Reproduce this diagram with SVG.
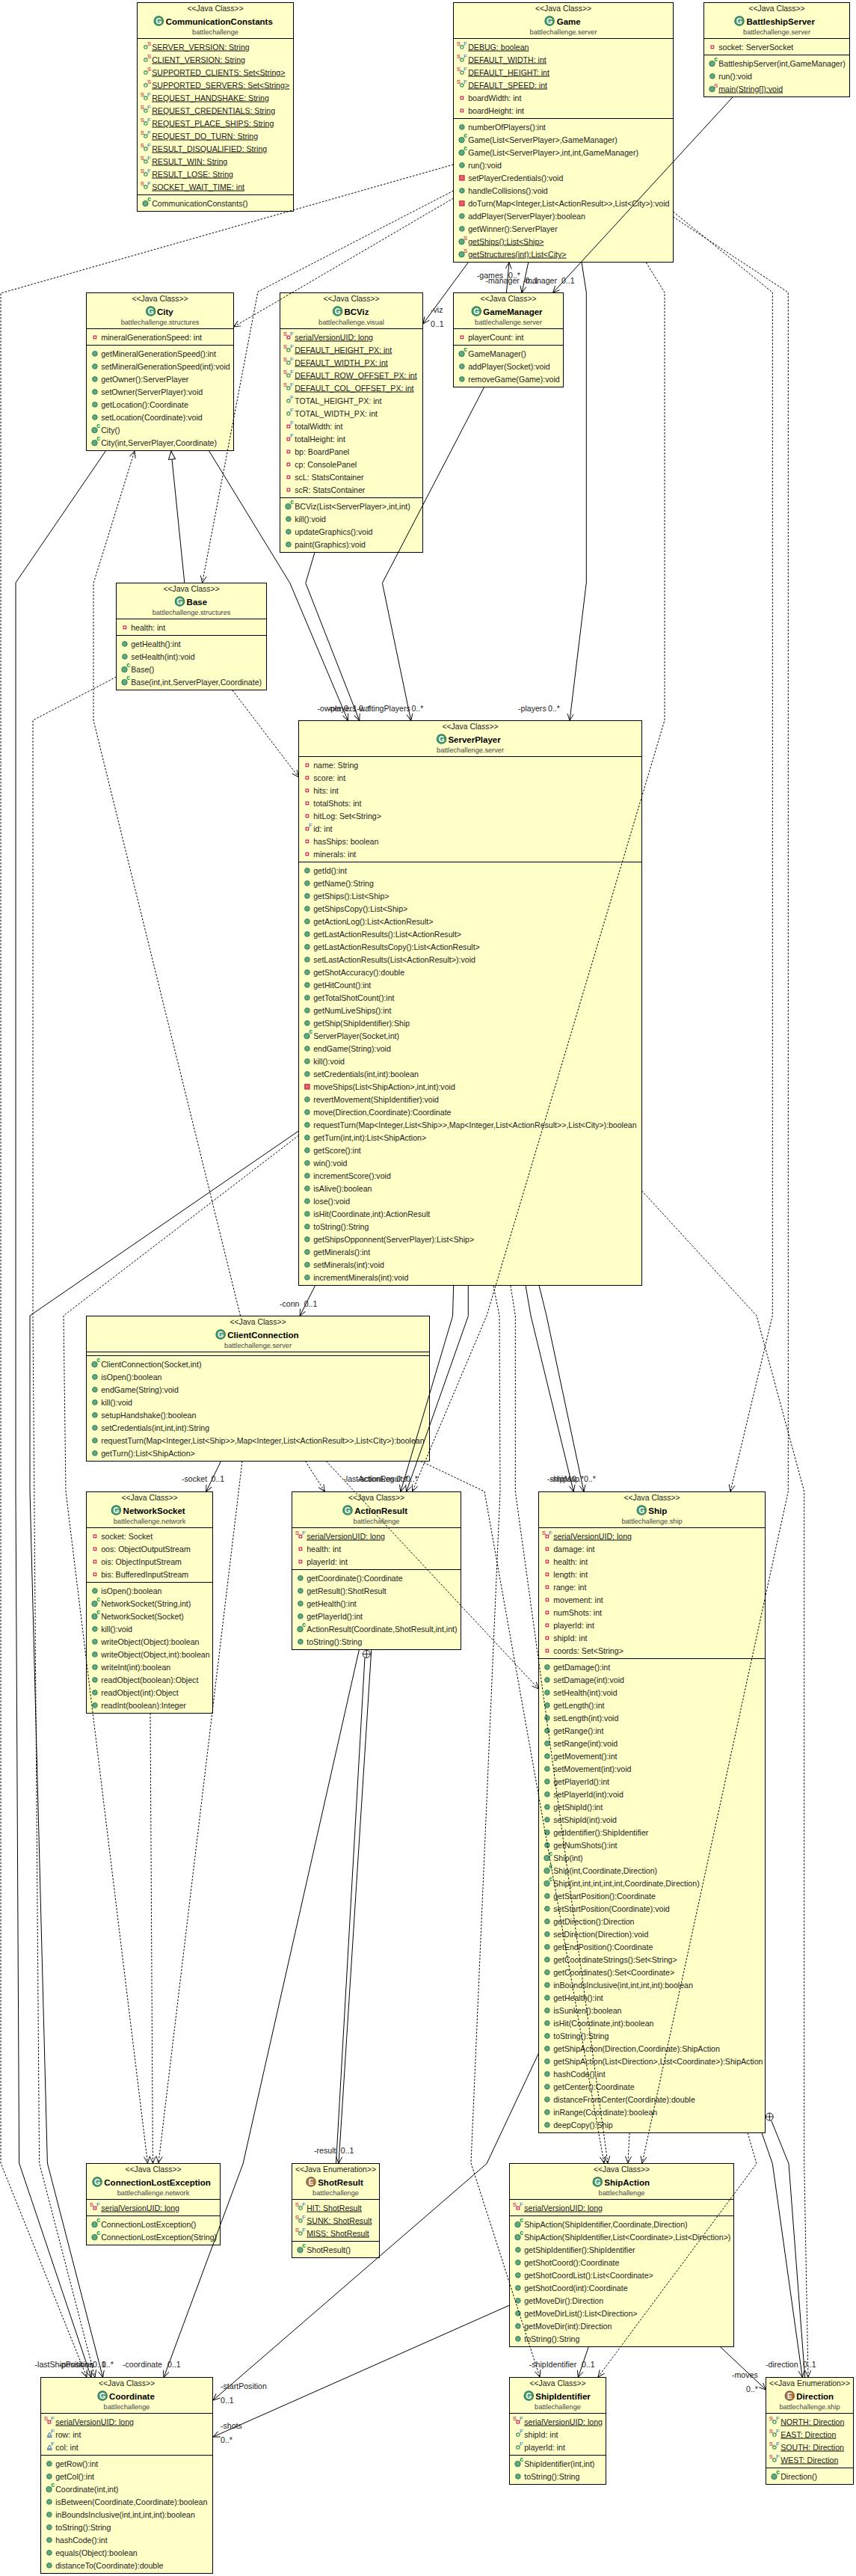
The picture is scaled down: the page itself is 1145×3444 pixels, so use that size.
<svg xmlns="http://www.w3.org/2000/svg" width="1145" height="3444" viewBox="0 0 1145 3444">
<style>
text{font-family:"Liberation Sans",Arial,sans-serif;font-size:10.6px;fill:#1c1c1c}
.u{text-decoration:underline}
.st{font-size:10.4px;text-anchor:middle}
.nm{font-size:11.5px;font-weight:bold;fill:#000}
.pk{font-size:9.2px;text-anchor:middle;fill:#444}
.b{fill:#ffffc8;stroke:#000;stroke-width:1}
.dv{stroke:#000;stroke-width:1}
.l{fill:none;stroke:#000;stroke-width:1;marker-end:url(#a)}
.n{fill:none;stroke:#000;stroke-width:1}
.d{fill:none;stroke:#000;stroke-width:1;stroke-dasharray:2.5 2;marker-end:url(#a)}
.lb{font-size:10.6px}
.fS{font-size:8px;fill:#d0003c;text-anchor:middle}
.fF{font-size:8px;fill:#2a70c0;text-anchor:middle}
.fC{font-size:8.5px;font-weight:bold;fill:#008f48;text-anchor:middle}
.gi{font-size:10px;font-weight:bold;fill:#fff;text-anchor:middle}
</style>
<defs>
<marker id="a" markerWidth="12" markerHeight="12" refX="10" refY="5" orient="auto" markerUnits="userSpaceOnUse"><path d="M1,1 L10,5 L1,9" fill="none" stroke="#000" stroke-width="0.9"/></marker>
<marker id="t" markerWidth="14" markerHeight="12" refX="12" refY="5" orient="auto" markerUnits="userSpaceOnUse"><path d="M1,0.5 L12,5 L1,9.5 Z" fill="#fff" stroke="#000"/></marker>
<g id="m"><circle cx="11.4" cy="-3.6" r="3.3" fill="#62a882" stroke="#2e7d53"/></g>
<g id="pm"><rect x="8.2" y="-6.8" width="6.4" height="6.4" fill="#e2606f" stroke="#c81e3c"/></g>
<g id="pf"><rect x="9.6" y="-5.4" width="3.6" height="3.6" fill="#fff" stroke="#d81e46" stroke-width="1.2"/></g>
<g id="c"><circle cx="11" cy="-3.4" r="3.7" fill="#62a882" stroke="#2e7d53"/><text class="fC" x="16.2" y="-6.5">c</text></g>
<g id="ms"><circle cx="11" cy="-3.4" r="3.7" fill="#62a882" stroke="#2e7d53"/><text class="fS" x="16.2" y="-6">S</text></g>
<g id="ps"><circle cx="11.4" cy="-3.4" r="2.2" fill="#ffffc8" stroke="#2e8b57" stroke-width="1.1"/><text class="fS" x="16.2" y="-5.8">S</text></g>
<g id="psf"><circle cx="11.4" cy="-3.4" r="2.2" fill="#ffffc8" stroke="#2e8b57" stroke-width="1.1"/><text class="fS" x="7" y="-5.8">S</text><text class="fF" x="16" y="-5.8">F</text></g>
<g id="prsf"><rect x="9.6" y="-5.2" width="3.6" height="3.6" fill="#fff" stroke="#d81e46" stroke-width="1.2"/><text class="fS" x="7" y="-5.8">S</text><text class="fF" x="16" y="-5.8">F</text></g>
<g id="gf"><circle cx="11.4" cy="-3.4" r="2.2" fill="#ffffc8" stroke="#2e8b57" stroke-width="1.1"/><text class="fF" x="16" y="-5.8">F</text></g>
<g id="prf"><rect x="9.6" y="-5.2" width="3.6" height="3.6" fill="#fff" stroke="#d81e46" stroke-width="1.2"/><text class="fF" x="16" y="-5.8">F</text></g>
<g id="tf"><path d="M11.8,-6.4 L14.6,-1.6 L9,-1.6 Z" fill="#ffffc8" stroke="#2a5fb0"/><path d="M8.4,-0.2 H15.2" stroke="#2a5fb0"/><text class="fF" x="16" y="-5.8">F</text></g>
<g id="g"><circle r="6.2" fill="#4c9c72" stroke="#2e7d53" stroke-width="1.2"/><text class="gi" y="3.6">G</text></g>
<g id="e"><circle r="6.2" fill="#a9764a" stroke="#8a5a30" stroke-width="1.2"/><text class="gi" y="3.6">E</text></g>
</defs>
<rect width="1145" height="3444" fill="#fff"/>

<g id="nodes">
<g id="CommunicationConstants" transform="translate(183.5,3.5)"><rect class="b" width="209" height="279"/><path class="dv" d="M0,48H209M0,257H209"/>
<text class="st" x="104.5" y="11.5">&lt;&lt;Java Class&gt;&gt;</text><use href="#g" x="28.8" y="24.5"/><text class="nm" x="38.2" y="29">CommunicationConstants</text><text class="pk" x="104.5" y="42.5">battlechallenge</text>
<g transform="translate(0,48)">
<use href="#ps" y="15"/><text class="u" x="19.7" y="15">SERVER_VERSION: String</text>
<use href="#ps" y="32"/><text class="u" x="19.7" y="32">CLIENT_VERSION: String</text>
<use href="#ps" y="49"/><text class="u" x="19.7" y="49">SUPPORTED_CLIENTS: Set&lt;String&gt;</text>
<use href="#ps" y="66"/><text class="u" x="19.7" y="66">SUPPORTED_SERVERS: Set&lt;String&gt;</text>
<use href="#psf" y="83"/><text class="u" x="19.7" y="83">REQUEST_HANDSHAKE: String</text>
<use href="#psf" y="100"/><text class="u" x="19.7" y="100">REQUEST_CREDENTIALS: String</text>
<use href="#psf" y="117"/><text class="u" x="19.7" y="117">REQUEST_PLACE_SHIPS: String</text>
<use href="#psf" y="134"/><text class="u" x="19.7" y="134">REQUEST_DO_TURN: String</text>
<use href="#psf" y="151"/><text class="u" x="19.7" y="151">RESULT_DISQUALIFIED: String</text>
<use href="#psf" y="168"/><text class="u" x="19.7" y="168">RESULT_WIN: String</text>
<use href="#psf" y="185"/><text class="u" x="19.7" y="185">RESULT_LOSE: String</text>
<use href="#psf" y="202"/><text class="u" x="19.7" y="202">SOCKET_WAIT_TIME: int</text>
</g><g transform="translate(0,257)"><use href="#c" y="15"/><text x="19.7" y="15">CommunicationConstants()</text></g></g>

<g id="Game" transform="translate(606.5,3.5)"><rect class="b" width="294" height="347"/><path class="dv" d="M0,48H294M0,155H294"/>
<text class="st" x="147" y="11.5">&lt;&lt;Java Class&gt;&gt;</text><use href="#g" x="128.6" y="24.5"/><text class="nm" x="138.2" y="29">Game</text><text class="pk" x="147" y="42.5">battlechallenge.server</text>
<g transform="translate(0,48)">
<use href="#psf" y="15"/><text class="u" x="19.7" y="15">DEBUG: boolean</text>
<use href="#psf" y="32"/><text class="u" x="19.7" y="32">DEFAULT_WIDTH: int</text>
<use href="#psf" y="49"/><text class="u" x="19.7" y="49">DEFAULT_HEIGHT: int</text>
<use href="#psf" y="66"/><text class="u" x="19.7" y="66">DEFAULT_SPEED: int</text>
<use href="#pf" y="83"/><text x="19.7" y="83">boardWidth: int</text>
<use href="#pf" y="100"/><text x="19.7" y="100">boardHeight: int</text>
</g><g transform="translate(0,155)">
<use href="#m" y="15"/><text x="19.7" y="15">numberOfPlayers():int</text>
<use href="#c" y="32"/><text x="19.7" y="32">Game(List&lt;ServerPlayer&gt;,GameManager)</text>
<use href="#c" y="49"/><text x="19.7" y="49">Game(List&lt;ServerPlayer&gt;,int,int,GameManager)</text>
<use href="#m" y="66"/><text x="19.7" y="66">run():void</text>
<use href="#pm" y="83"/><text x="19.7" y="83">setPlayerCredentials():void</text>
<use href="#m" y="100"/><text x="19.7" y="100">handleCollisions():void</text>
<use href="#pm" y="117"/><text x="19.7" y="117">doTurn(Map&lt;Integer,List&lt;ActionResult&gt;&gt;,List&lt;City&gt;):void</text>
<use href="#m" y="134"/><text x="19.7" y="134">addPlayer(ServerPlayer):boolean</text>
<use href="#m" y="151"/><text x="19.7" y="151">getWinner():ServerPlayer</text>
<use href="#ms" y="168"/><text class="u" x="19.7" y="168">getShips():List&lt;Ship&gt;</text>
<use href="#ms" y="185"/><text class="u" x="19.7" y="185">getStructures(int):List&lt;City&gt;</text>
</g></g>

<g id="BattleshipServer" transform="translate(941.5,3.5)"><rect class="b" width="195" height="126"/><path class="dv" d="M0,48H195M0,70H195"/>
<text class="st" x="97.5" y="11.5">&lt;&lt;Java Class&gt;&gt;</text><use href="#g" x="47.5" y="24.5"/><text class="nm" x="57" y="29">BattleshipServer</text><text class="pk" x="97.5" y="42.5">battlechallenge.server</text>
<g transform="translate(0,48)"><use href="#pf" y="15"/><text x="19.7" y="15">socket: ServerSocket</text></g>
<g transform="translate(0,70)"><use href="#c" y="15"/><text x="19.7" y="15">BattleshipServer(int,GameManager)</text>
<use href="#m" y="32"/><text x="19.7" y="32">run():void</text>
<use href="#ms" y="49"/><text class="u" x="19.7" y="49">main(String[]):void</text></g></g>

<g id="City" transform="translate(115.5,391.5)"><rect class="b" width="197" height="211"/><path class="dv" d="M0,48H197M0,70H197"/>
<text class="st" x="98.5" y="11.5">&lt;&lt;Java Class&gt;&gt;</text><use href="#g" x="86.2" y="24.5"/><text class="nm" x="94.5" y="29">City</text><text class="pk" x="98.5" y="42.5">battlechallenge.structures</text>
<g transform="translate(0,48)"><use href="#pf" y="15"/><text x="19.7" y="15">mineralGenerationSpeed: int</text></g>
<g transform="translate(0,70)">
<use href="#m" y="15"/><text x="19.7" y="15">getMineralGenerationSpeed():int</text>
<use href="#m" y="32"/><text x="19.7" y="32">setMineralGenerationSpeed(int):void</text>
<use href="#m" y="49"/><text x="19.7" y="49">getOwner():ServerPlayer</text>
<use href="#m" y="66"/><text x="19.7" y="66">setOwner(ServerPlayer):void</text>
<use href="#m" y="83"/><text x="19.7" y="83">getLocation():Coordinate</text>
<use href="#m" y="100"/><text x="19.7" y="100">setLocation(Coordinate):void</text>
<use href="#c" y="117"/><text x="19.7" y="117">City()</text>
<use href="#c" y="134"/><text x="19.7" y="134">City(int,ServerPlayer,Coordinate)</text>
</g></g>

<g id="BCViz" transform="translate(374.5,391.5)"><rect class="b" width="191" height="347"/><path class="dv" d="M0,48H191M0,274H191"/>
<text class="st" x="95.5" y="11.5">&lt;&lt;Java Class&gt;&gt;</text><use href="#g" x="77.1" y="24.5"/><text class="nm" x="85.9" y="29">BCViz</text><text class="pk" x="95.5" y="42.5">battlechallenge.visual</text>
<g transform="translate(0,48)">
<use href="#prsf" y="15"/><text class="u" x="19.7" y="15">serialVersionUID: long</text>
<use href="#psf" y="32"/><text class="u" x="19.7" y="32">DEFAULT_HEIGHT_PX: int</text>
<use href="#psf" y="49"/><text class="u" x="19.7" y="49">DEFAULT_WIDTH_PX: int</text>
<use href="#psf" y="66"/><text class="u" x="19.7" y="66">DEFAULT_ROW_OFFSET_PX: int</text>
<use href="#psf" y="83"/><text class="u" x="19.7" y="83">DEFAULT_COL_OFFSET_PX: int</text>
<use href="#gf" y="100"/><text x="19.7" y="100">TOTAL_HEIGHT_PX: int</text>
<use href="#gf" y="117"/><text x="19.7" y="117">TOTAL_WIDTH_PX: int</text>
<use href="#prf" y="134"/><text x="19.7" y="134">totalWidth: int</text>
<use href="#prf" y="151"/><text x="19.7" y="151">totalHeight: int</text>
<use href="#pf" y="168"/><text x="19.7" y="168">bp: BoardPanel</text>
<use href="#pf" y="185"/><text x="19.7" y="185">cp: ConsolePanel</text>
<use href="#pf" y="202"/><text x="19.7" y="202">scL: StatsContainer</text>
<use href="#pf" y="219"/><text x="19.7" y="219">scR: StatsContainer</text>
</g><g transform="translate(0,274)">
<use href="#c" y="15"/><text x="19.7" y="15">BCViz(List&lt;ServerPlayer&gt;,int,int)</text>
<use href="#m" y="32"/><text x="19.7" y="32">kill():void</text>
<use href="#m" y="49"/><text x="19.7" y="49">updateGraphics():void</text>
<use href="#m" y="66"/><text x="19.7" y="66">paint(Graphics):void</text>
</g></g>

<g id="GameManager" transform="translate(606.5,391.5)"><rect class="b" width="147" height="126"/><path class="dv" d="M0,48H147M0,70H147"/>
<text class="st" x="73.5" y="11.5">&lt;&lt;Java Class&gt;&gt;</text><use href="#g" x="30.8" y="24.5"/><text class="nm" x="39.8" y="29">GameManager</text><text class="pk" x="73.5" y="42.5">battlechallenge.server</text>
<g transform="translate(0,48)"><use href="#pf" y="15"/><text x="19.7" y="15">playerCount: int</text></g>
<g transform="translate(0,70)">
<use href="#c" y="15"/><text x="19.7" y="15">GameManager()</text>
<use href="#m" y="32"/><text x="19.7" y="32">addPlayer(Socket):void</text>
<use href="#m" y="49"/><text x="19.7" y="49">removeGame(Game):void</text>
</g></g>

<g id="Base" transform="translate(155.5,779.5)"><rect class="b" width="201" height="143"/><path class="dv" d="M0,48H201M0,70H201"/>
<text class="st" x="100.5" y="11.5">&lt;&lt;Java Class&gt;&gt;</text><use href="#g" x="85" y="24.5"/><text class="nm" x="94.1" y="29">Base</text><text class="pk" x="100.5" y="42.5">battlechallenge.structures</text>
<g transform="translate(0,48)"><use href="#pf" y="15"/><text x="19.7" y="15">health: int</text></g>
<g transform="translate(0,70)">
<use href="#m" y="15"/><text x="19.7" y="15">getHealth():int</text>
<use href="#m" y="32"/><text x="19.7" y="32">setHealth(int):void</text>
<use href="#c" y="49"/><text x="19.7" y="49">Base()</text>
<use href="#c" y="66"/><text x="19.7" y="66">Base(int,int,ServerPlayer,Coordinate)</text>
</g></g>

<g id="ServerPlayer" transform="translate(399.5,963.5)"><rect class="b" width="459" height="755"/><path class="dv" d="M0,48H459M0,189H459"/>
<text class="st" x="229.5" y="11.5">&lt;&lt;Java Class&gt;&gt;</text><use href="#g" x="191.1" y="24.5"/><text class="nm" x="199.9" y="29">ServerPlayer</text><text class="pk" x="229.5" y="42.5">battlechallenge.server</text>
<g transform="translate(0,48)">
<use href="#pf" y="15"/><text x="19.7" y="15">name: String</text>
<use href="#pf" y="32"/><text x="19.7" y="32">score: int</text>
<use href="#pf" y="49"/><text x="19.7" y="49">hits: int</text>
<use href="#pf" y="66"/><text x="19.7" y="66">totalShots: int</text>
<use href="#pf" y="83"/><text x="19.7" y="83">hitLog: Set&lt;String&gt;</text>
<use href="#prf" y="100"/><text x="19.7" y="100">id: int</text>
<use href="#pf" y="117"/><text x="19.7" y="117">hasShips: boolean</text>
<use href="#pf" y="134"/><text x="19.7" y="134">minerals: int</text>
</g><g transform="translate(0,189)">
<use href="#m" y="15"/><text x="19.7" y="15">getId():int</text>
<use href="#m" y="32"/><text x="19.7" y="32">getName():String</text>
<use href="#m" y="49"/><text x="19.7" y="49">getShips():List&lt;Ship&gt;</text>
<use href="#m" y="66"/><text x="19.7" y="66">getShipsCopy():List&lt;Ship&gt;</text>
<use href="#m" y="83"/><text x="19.7" y="83">getActionLog():List&lt;ActionResult&gt;</text>
<use href="#m" y="100"/><text x="19.7" y="100">getLastActionResults():List&lt;ActionResult&gt;</text>
<use href="#m" y="117"/><text x="19.7" y="117">getLastActionResultsCopy():List&lt;ActionResult&gt;</text>
<use href="#m" y="134"/><text x="19.7" y="134">setLastActionResults(List&lt;ActionResult&gt;):void</text>
<use href="#m" y="151"/><text x="19.7" y="151">getShotAccuracy():double</text>
<use href="#m" y="168"/><text x="19.7" y="168">getHitCount():int</text>
<use href="#m" y="185"/><text x="19.7" y="185">getTotalShotCount():int</text>
<use href="#m" y="202"/><text x="19.7" y="202">getNumLiveShips():int</text>
<use href="#m" y="219"/><text x="19.7" y="219">getShip(ShipIdentifier):Ship</text>
<use href="#c" y="236"/><text x="19.7" y="236">ServerPlayer(Socket,int)</text>
<use href="#m" y="253"/><text x="19.7" y="253">endGame(String):void</text>
<use href="#m" y="270"/><text x="19.7" y="270">kill():void</text>
<use href="#m" y="287"/><text x="19.7" y="287">setCredentials(int,int):boolean</text>
<use href="#pm" y="304"/><text x="19.7" y="304">moveShips(List&lt;ShipAction&gt;,int,int):void</text>
<use href="#m" y="321"/><text x="19.7" y="321">revertMovement(ShipIdentifier):void</text>
<use href="#m" y="338"/><text x="19.7" y="338">move(Direction,Coordinate):Coordinate</text>
<use href="#m" y="355"/><text x="19.7" y="355">requestTurn(Map&lt;Integer,List&lt;Ship&gt;&gt;,Map&lt;Integer,List&lt;ActionResult&gt;&gt;,List&lt;City&gt;):boolean</text>
<use href="#m" y="372"/><text x="19.7" y="372">getTurn(int,int):List&lt;ShipAction&gt;</text>
<use href="#m" y="389"/><text x="19.7" y="389">getScore():int</text>
<use href="#m" y="406"/><text x="19.7" y="406">win():void</text>
<use href="#m" y="423"/><text x="19.7" y="423">incrementScore():void</text>
<use href="#m" y="440"/><text x="19.7" y="440">isAlive():boolean</text>
<use href="#m" y="457"/><text x="19.7" y="457">lose():void</text>
<use href="#m" y="474"/><text x="19.7" y="474">isHit(Coordinate,int):ActionResult</text>
<use href="#m" y="491"/><text x="19.7" y="491">toString():String</text>
<use href="#m" y="508"/><text x="19.7" y="508">getShipsOpponnent(ServerPlayer):List&lt;Ship&gt;</text>
<use href="#m" y="525"/><text x="19.7" y="525">getMinerals():int</text>
<use href="#m" y="542"/><text x="19.7" y="542">setMinerals(int):void</text>
<use href="#m" y="559"/><text x="19.7" y="559">incrementMinerals(int):void</text>
</g></g>

<g id="ClientConnection" transform="translate(115.5,1759.5)"><rect class="b" width="459" height="194"/><path class="dv" d="M0,48H459M0,53H459"/>
<text class="st" x="229.5" y="11.5">&lt;&lt;Java Class&gt;&gt;</text><use href="#g" x="179.6" y="24.5"/><text class="nm" x="188.8" y="29">ClientConnection</text><text class="pk" x="229.5" y="42.5">battlechallenge.server</text>
<g transform="translate(0,53)">
<use href="#c" y="15"/><text x="19.7" y="15">ClientConnection(Socket,int)</text>
<use href="#m" y="32"/><text x="19.7" y="32">isOpen():boolean</text>
<use href="#m" y="49"/><text x="19.7" y="49">endGame(String):void</text>
<use href="#m" y="66"/><text x="19.7" y="66">kill():void</text>
<use href="#m" y="83"/><text x="19.7" y="83">setupHandshake():boolean</text>
<use href="#m" y="100"/><text x="19.7" y="100">setCredentials(int,int,int):String</text>
<use href="#m" y="117"/><text x="19.7" y="117">requestTurn(Map&lt;Integer,List&lt;Ship&gt;&gt;,Map&lt;Integer,List&lt;ActionResult&gt;&gt;,List&lt;City&gt;):boolean</text>
<use href="#m" y="134"/><text x="19.7" y="134">getTurn():List&lt;ShipAction&gt;</text>
</g></g>

<g id="NetworkSocket" transform="translate(115.5,1994.5)"><rect class="b" width="169" height="296"/><path class="dv" d="M0,48H169M0,121H169"/>
<text class="st" x="84.5" y="11.5">&lt;&lt;Java Class&gt;&gt;</text><use href="#g" x="39.9" y="24.5"/><text class="nm" x="49.1" y="29">NetworkSocket</text><text class="pk" x="84.5" y="42.5">battlechallenge.network</text>
<g transform="translate(0,48)">
<use href="#pf" y="15"/><text x="19.7" y="15">socket: Socket</text>
<use href="#pf" y="32"/><text x="19.7" y="32">oos: ObjectOutputStream</text>
<use href="#pf" y="49"/><text x="19.7" y="49">ois: ObjectInputStream</text>
<use href="#pf" y="66"/><text x="19.7" y="66">bis: BufferedInputStream</text>
</g><g transform="translate(0,121)">
<use href="#m" y="15"/><text x="19.7" y="15">isOpen():boolean</text>
<use href="#c" y="32"/><text x="19.7" y="32">NetworkSocket(String,int)</text>
<use href="#c" y="49"/><text x="19.7" y="49">NetworkSocket(Socket)</text>
<use href="#m" y="66"/><text x="19.7" y="66">kill():void</text>
<use href="#m" y="83"/><text x="19.7" y="83">writeObject(Object):boolean</text>
<use href="#m" y="100"/><text x="19.7" y="100">writeObject(Object,int):boolean</text>
<use href="#m" y="117"/><text x="19.7" y="117">writeInt(int):boolean</text>
<use href="#m" y="134"/><text x="19.7" y="134">readObject(boolean):Object</text>
<use href="#m" y="151"/><text x="19.7" y="151">readObject(int):Object</text>
<use href="#m" y="168"/><text x="19.7" y="168">readInt(boolean):Integer</text>
</g></g>

<g id="ActionResult" transform="translate(390.5,1994.5)"><rect class="b" width="226" height="211"/><path class="dv" d="M0,48H226M0,104H226"/>
<text class="st" x="113" y="11.5">&lt;&lt;Java Class&gt;&gt;</text><use href="#g" x="74.5" y="24.5"/><text class="nm" x="83.7" y="29">ActionResult</text><text class="pk" x="113" y="42.5">battlechallenge</text>
<g transform="translate(0,48)">
<use href="#prsf" y="15"/><text class="u" x="19.7" y="15">serialVersionUID: long</text>
<use href="#pf" y="32"/><text x="19.7" y="32">health: int</text>
<use href="#pf" y="49"/><text x="19.7" y="49">playerId: int</text>
</g><g transform="translate(0,104)">
<use href="#m" y="15"/><text x="19.7" y="15">getCoordinate():Coordinate</text>
<use href="#m" y="32"/><text x="19.7" y="32">getResult():ShotResult</text>
<use href="#m" y="49"/><text x="19.7" y="49">getHealth():int</text>
<use href="#m" y="66"/><text x="19.7" y="66">getPlayerId():int</text>
<use href="#c" y="83"/><text x="19.7" y="83">ActionResult(Coordinate,ShotResult,int,int)</text>
<use href="#m" y="100"/><text x="19.7" y="100">toString():String</text>
</g></g>

<g id="Ship" transform="translate(720.5,1994.5)"><rect class="b" width="303" height="857"/><path class="dv" d="M0,48H303M0,223H303"/>
<text class="st" x="151.5" y="11.5">&lt;&lt;Java Class&gt;&gt;</text><use href="#g" x="137.8" y="24.5"/><text class="nm" x="146.8" y="29">Ship</text><text class="pk" x="151.5" y="42.5">battlechallenge.ship</text>
<g transform="translate(0,48)">
<use href="#prsf" y="15"/><text class="u" x="19.7" y="15">serialVersionUID: long</text>
<use href="#pf" y="32"/><text x="19.7" y="32">damage: int</text>
<use href="#pf" y="49"/><text x="19.7" y="49">health: int</text>
<use href="#pf" y="66"/><text x="19.7" y="66">length: int</text>
<use href="#pf" y="83"/><text x="19.7" y="83">range: int</text>
<use href="#pf" y="100"/><text x="19.7" y="100">movement: int</text>
<use href="#pf" y="117"/><text x="19.7" y="117">numShots: int</text>
<use href="#pf" y="134"/><text x="19.7" y="134">playerId: int</text>
<use href="#pf" y="151"/><text x="19.7" y="151">shipId: int</text>
<use href="#pf" y="168"/><text x="19.7" y="168">coords: Set&lt;String&gt;</text>
</g><g transform="translate(0,223)">
<use href="#m" y="15"/><text x="19.7" y="15">getDamage():int</text>
<use href="#m" y="32"/><text x="19.7" y="32">setDamage(int):void</text>
<use href="#m" y="49"/><text x="19.7" y="49">setHealth(int):void</text>
<use href="#m" y="66"/><text x="19.7" y="66">getLength():int</text>
<use href="#m" y="83"/><text x="19.7" y="83">setLength(int):void</text>
<use href="#m" y="100"/><text x="19.7" y="100">getRange():int</text>
<use href="#m" y="117"/><text x="19.7" y="117">setRange(int):void</text>
<use href="#m" y="134"/><text x="19.7" y="134">getMovement():int</text>
<use href="#m" y="151"/><text x="19.7" y="151">setMovement(int):void</text>
<use href="#m" y="168"/><text x="19.7" y="168">getPlayerId():int</text>
<use href="#m" y="185"/><text x="19.7" y="185">setPlayerId(int):void</text>
<use href="#m" y="202"/><text x="19.7" y="202">getShipId():int</text>
<use href="#m" y="219"/><text x="19.7" y="219">setShipId(int):void</text>
<use href="#m" y="236"/><text x="19.7" y="236">getIdentifier():ShipIdentifier</text>
<use href="#m" y="253"/><text x="19.7" y="253">getNumShots():int</text>
<use href="#c" y="270"/><text x="19.7" y="270">Ship(int)</text>
<use href="#c" y="287"/><text x="19.7" y="287">Ship(int,Coordinate,Direction)</text>
<use href="#c" y="304"/><text x="19.7" y="304">Ship(int,int,int,int,int,Coordinate,Direction)</text>
<use href="#m" y="321"/><text x="19.7" y="321">getStartPosition():Coordinate</text>
<use href="#m" y="338"/><text x="19.7" y="338">setStartPosition(Coordinate):void</text>
<use href="#m" y="355"/><text x="19.7" y="355">getDirection():Direction</text>
<use href="#m" y="372"/><text x="19.7" y="372">setDirection(Direction):void</text>
<use href="#m" y="389"/><text x="19.7" y="389">getEndPosition():Coordinate</text>
<use href="#m" y="406"/><text x="19.7" y="406">getCoordinateStrings():Set&lt;String&gt;</text>
<use href="#m" y="423"/><text x="19.7" y="423">getCoordinates():Set&lt;Coordinate&gt;</text>
<use href="#m" y="440"/><text x="19.7" y="440">inBoundsInclusive(int,int,int,int):boolean</text>
<use href="#m" y="457"/><text x="19.7" y="457">getHealth():int</text>
<use href="#m" y="474"/><text x="19.7" y="474">isSunken():boolean</text>
<use href="#m" y="491"/><text x="19.7" y="491">isHit(Coordinate,int):boolean</text>
<use href="#m" y="508"/><text x="19.7" y="508">toString():String</text>
<use href="#m" y="525"/><text x="19.7" y="525">getShipAction(Direction,Coordinate):ShipAction</text>
<use href="#m" y="542"/><text x="19.7" y="542">getShipAction(List&lt;Direction&gt;,List&lt;Coordinate&gt;):ShipAction</text>
<use href="#m" y="559"/><text x="19.7" y="559">hashCode():int</text>
<use href="#m" y="576"/><text x="19.7" y="576">getCenter():Coordinate</text>
<use href="#m" y="593"/><text x="19.7" y="593">distanceFromCenter(Coordinate):double</text>
<use href="#m" y="610"/><text x="19.7" y="610">inRange(Coordinate):boolean</text>
<use href="#m" y="627"/><text x="19.7" y="627">deepCopy():Ship</text>
</g></g>

<g id="ConnectionLostException" transform="translate(115.5,2892.5)"><rect class="b" width="179" height="109"/><path class="dv" d="M0,48H179M0,70H179"/>
<text class="st" x="89.5" y="11.5">&lt;&lt;Java Class&gt;&gt;</text><use href="#g" x="14.6" y="24.5"/><text class="nm" x="23.8" y="29">ConnectionLostException</text><text class="pk" x="89.5" y="42.5">battlechallenge.network</text>
<g transform="translate(0,48)"><use href="#prsf" y="15"/><text class="u" x="19.7" y="15">serialVersionUID: long</text></g>
<g transform="translate(0,70)">
<use href="#c" y="15"/><text x="19.7" y="15">ConnectionLostException()</text>
<use href="#c" y="32"/><text x="19.7" y="32">ConnectionLostException(String)</text>
</g></g>

<g id="ShotResult" transform="translate(390.5,2892.5)"><rect class="b" width="117" height="126"/><path class="dv" d="M0,48H117M0,104H117"/>
<text class="st" x="58.5" y="11.5">&lt;&lt;Java Enumeration&gt;&gt;</text><use href="#e" x="25.5" y="24.5"/><text class="nm" x="34.7" y="29">ShotResult</text><text class="pk" x="58.5" y="42.5">battlechallenge</text>
<g transform="translate(0,48)">
<use href="#psf" y="15"/><text class="u" x="19.7" y="15">HIT: ShotResult</text>
<use href="#psf" y="32"/><text class="u" x="19.7" y="32">SUNK: ShotResult</text>
<use href="#psf" y="49"/><text class="u" x="19.7" y="49">MISS: ShotResult</text>
</g><g transform="translate(0,104)"><use href="#c" y="15"/><text x="19.7" y="15">ShotResult()</text></g></g>

<g id="ShipAction" transform="translate(681.5,2892.5)"><rect class="b" width="300" height="245"/><path class="dv" d="M0,48H300M0,70H300"/>
<text class="st" x="150" y="11.5">&lt;&lt;Java Class&gt;&gt;</text><use href="#g" x="117.8" y="24.5"/><text class="nm" x="126.8" y="29">ShipAction</text><text class="pk" x="150" y="42.5">battlechallenge</text>
<g transform="translate(0,48)"><use href="#prsf" y="15"/><text class="u" x="19.7" y="15">serialVersionUID: long</text></g>
<g transform="translate(0,70)">
<use href="#c" y="15"/><text x="19.7" y="15">ShipAction(ShipIdentifier,Coordinate,Direction)</text>
<use href="#c" y="32"/><text x="19.7" y="32">ShipAction(ShipIdentifier,List&lt;Coordinate&gt;,List&lt;Direction&gt;)</text>
<use href="#m" y="49"/><text x="19.7" y="49">getShipIdentifier():ShipIdentifier</text>
<use href="#m" y="66"/><text x="19.7" y="66">getShotCoord():Coordinate</text>
<use href="#m" y="83"/><text x="19.7" y="83">getShotCoordList():List&lt;Coordinate&gt;</text>
<use href="#m" y="100"/><text x="19.7" y="100">getShotCoord(int):Coordinate</text>
<use href="#m" y="117"/><text x="19.7" y="117">getMoveDir():Direction</text>
<use href="#m" y="134"/><text x="19.7" y="134">getMoveDirList():List&lt;Direction&gt;</text>
<use href="#m" y="151"/><text x="19.7" y="151">getMoveDir(int):Direction</text>
<use href="#m" y="168"/><text x="19.7" y="168">toString():String</text>
</g></g>

<g id="ShipIdentifier" transform="translate(681.5,3178.5)"><rect class="b" width="129" height="143"/><path class="dv" d="M0,48H129M0,104H129"/>
<text class="st" x="64.5" y="11.5">&lt;&lt;Java Class&gt;&gt;</text><use href="#g" x="25.8" y="24.5"/><text class="nm" x="34.8" y="29">ShipIdentifier</text><text class="pk" x="64.5" y="42.5">battlechallenge</text>
<g transform="translate(0,48)">
<use href="#prsf" y="15"/><text class="u" x="19.7" y="15">serialVersionUID: long</text>
<use href="#gf" y="32"/><text x="19.7" y="32">shipId: int</text>
<use href="#gf" y="49"/><text x="19.7" y="49">playerId: int</text>
</g><g transform="translate(0,104)">
<use href="#c" y="15"/><text x="19.7" y="15">ShipIdentifier(int,int)</text>
<use href="#m" y="32"/><text x="19.7" y="32">toString():String</text>
</g></g>

<g id="Direction" transform="translate(1024.5,3178.5)"><rect class="b" width="117" height="143"/><path class="dv" d="M0,48H117M0,121H117"/>
<text class="st" x="58.5" y="11.5">&lt;&lt;Java Enumeration&gt;&gt;</text><use href="#e" x="31.8" y="24.5"/><text class="nm" x="40.8" y="29">Direction</text><text class="pk" x="58.5" y="42.5">battlechallenge.ship</text>
<g transform="translate(0,48)">
<use href="#psf" y="15"/><text class="u" x="19.7" y="15">NORTH: Direction</text>
<use href="#psf" y="32"/><text class="u" x="19.7" y="32">EAST: Direction</text>
<use href="#psf" y="49"/><text class="u" x="19.7" y="49">SOUTH: Direction</text>
<use href="#psf" y="66"/><text class="u" x="19.7" y="66">WEST: Direction</text>
</g><g transform="translate(0,121)"><use href="#c" y="15"/><text x="19.7" y="15">Direction()</text></g></g>

<g id="Coordinate" transform="translate(54.5,3178.5)"><rect class="b" width="230" height="262"/><path class="dv" d="M0,48H230M0,104H230"/>
<text class="st" x="115" y="11.5">&lt;&lt;Java Class&gt;&gt;</text><use href="#g" x="82.6" y="24.5"/><text class="nm" x="91.6" y="29">Coordinate</text><text class="pk" x="115" y="42.5">battlechallenge</text>
<g transform="translate(0,48)">
<use href="#prsf" y="15"/><text class="u" x="19.7" y="15">serialVersionUID: long</text>
<use href="#tf" y="32"/><text x="19.7" y="32">row: int</text>
<use href="#tf" y="49"/><text x="19.7" y="49">col: int</text>
</g><g transform="translate(0,104)">
<use href="#m" y="15"/><text x="19.7" y="15">getRow():int</text>
<use href="#m" y="32"/><text x="19.7" y="32">getCol():int</text>
<use href="#c" y="49"/><text x="19.7" y="49">Coordinate(int,int)</text>
<use href="#m" y="66"/><text x="19.7" y="66">isBetween(Coordinate,Coordinate):boolean</text>
<use href="#m" y="83"/><text x="19.7" y="83">inBoundsInclusive(int,int,int,int):boolean</text>
<use href="#m" y="100"/><text x="19.7" y="100">toString():String</text>
<use href="#m" y="117"/><text x="19.7" y="117">hashCode():int</text>
<use href="#m" y="134"/><text x="19.7" y="134">equals(Object):boolean</text>
<use href="#m" y="151"/><text x="19.7" y="151">distanceTo(Coordinate):double</text>
</g></g>
</g>

<g id="connectors">
<path class="d" d="M606.5,220 L1,392 V2892 L116,3178"/>
<path class="d" d="M606.5,255 L345,390 L270.6,779"/>
<path class="d" d="M606.5,265 L312.5,437"/>
<path class="d" d="M864.3,351 L889,391 V963 L651,1759 L551.5,1994"/>
<path class="d" d="M900.5,283 L1033.3,391 V1759 L977,1994"/>
<path class="d" d="M900.5,290 L1054.3,391 V1994 L859,2892"/>
<path class="d" d="M321.5,1759 L125,963 V780 L180,603"/>
<path class="d" d="M311,923 L399.5,1039"/>
<path class="d" d="M155.5,905 L44,963 V1759 L52.6,2892 L127,3178"/>
<path class="d" d="M858.5,1592 L1012,1759 L1075.7,1994 V2892 L1081,3178"/>
<path class="d" d="M660,1719 L668,1759 L669,1994 L630,2892 L722,3178"/>
<path class="d" d="M683,1719 L689.3,1759 V1994 L813,2892"/>
<path class="d" d="M562.6,1953.5 L648,1994 L808,2892"/>
<path class="d" d="M842,2851.5 L840,2892"/>
<path class="d" d="M1000,2851.5 L1012,2892.8 L800,3178"/>
<path class="d" d="M408.4,1953.5 L434.4,1994"/>
<path class="d" d="M436.3,1953.5 L720.5,2258"/>
<path class="d" d="M324,1953.5 L212,2892"/>
<path class="d" d="M201,2290.5 L204.4,2892"/>
<path class="d" d="M399.5,1518 L85,1759 L88,1994 L197.5,2892"/>
<path class="l" d="M626.5,350.5 L565.8,433"/>
<path class="l" d="M677.4,391.5 L681,350.5"/>
<path class="l" d="M706.8,350.5 L698,391.5"/>
<path class="l" d="M980.4,129.5 L739.5,391.5"/>
<path class="l" d="M778,350.5 L784.3,391 V779 L762,963.5"/>
<path class="l" d="M141.6,602.5 L21,779 V1994 L25.6,2892 L122,3178.5"/>
<path class="l" d="M279.4,602.5 L387.8,779.5 L465.5,963.5"/>
<path class="l" d="M421,738.5 L408.8,779.5 L480.8,963.5"/>
<path class="l" d="M647.7,517.5 L511.4,779.5 L549.7,963.5"/>
<path class="l" d="M399.5,1512 L40,1759 V1994 L63.4,2892 L137.6,3178.5"/>
<path class="l" d="M421.7,1718.5 L401,1759.5"/>
<path class="l" d="M606.7,1718.5 L605.5,1759.5 L535.8,1994.5"/>
<path class="l" d="M626.3,1718.5 V1759.5 L543.5,1994.5"/>
<path class="l" d="M703,1718.5 L710,1759 L767.3,1994.5"/>
<path class="l" d="M721,1718.5 L731,1759 L781,1994.5"/>
<path class="l" d="M295.5,1953.5 L275.6,1994.5"/>
<path class="l" d="M480.4,2205.5 L325,2893 L219,3178.5"/>
<path class="l" d="M496.8,2205.5 L453,2892.5"/>
<path class="n" d="M488,2216 L449.5,2892.5"/>
<path class="l" d="M720.5,2745 L651,2892.7 L285,3209"/>
<path class="l" d="M681.5,3082 L285,3258"/>
<path class="l" d="M1019,2851.5 L1033.3,2892.8 L1073.3,3178.5"/>
<path class="n" d="M1031.7,2835 L1055,2892.8 L1076.7,3178.5"/>
<path class="l" d="M787.3,3137.5 L773.3,3178.5"/>
<path class="l" d="M963.3,3137.5 L1024.5,3195"/>
<path fill="none" stroke="#000" marker-end="url(#t)" d="M246.8,779 L228.9,603"/>
<g fill="#fff" stroke="#222"><circle cx="490.3" cy="2211.4" r="5"/><path d="M485.3,2211.4H495.3M490.3,2206.4V2216.4"/><circle cx="1029.3" cy="2830" r="5"/><path d="M1024.3,2830H1034.3M1029.3,2825V2835"/></g>
</g>

<g id="labels">
<text class="lb" x="637.8" y="371.5">-games</text><text class="lb" x="680" y="371.5">0..*</text>
<text class="lb" x="649.5" y="378.5">-manager</text><text class="lb" x="702.6" y="378.5">0..1</text>
<text class="lb" x="699.7" y="378.5">-manager</text><text class="lb" x="751" y="378.5">0..1</text>
<text class="lb" x="576" y="417.5">-viz</text><text class="lb" x="576" y="436.5">0..1</text>
<text class="lb" x="424.5" y="950.5">-owner</text><text class="lb" x="460" y="950.5">0..1</text>
<text class="lb" x="438.7" y="950.5">-players</text><text class="lb" x="480" y="950.5">0..*</text>
<text class="lb" x="477" y="950.5">-waitingPlayers</text><text class="lb" x="550.4" y="950.5">0..*</text>
<text class="lb" x="693" y="950.5">-players</text><text class="lb" x="733" y="950.5">0..*</text>
<text class="lb" x="374" y="1746.5">-conn</text><text class="lb" x="406.7" y="1746.5">0..1</text>
<text class="lb" x="243" y="1981">-socket</text><text class="lb" x="282.5" y="1981">0..1</text>
<text class="lb" x="459.3" y="1981">-lastActionResults</text><text class="lb" x="543" y="1981">0..*</text>
<text class="lb" x="478" y="1981">-actionLog</text><text class="lb" x="530" y="1981">0..*</text>
<text class="lb" x="731.7" y="1981">-shipMap</text><text class="lb" x="781" y="1981">0..*</text>
<text class="lb" x="736" y="1981">-ships</text><text class="lb" x="765" y="1981">0..*</text>
<text class="lb" x="420" y="2879">-result</text><text class="lb" x="455.8" y="2879">0..1</text>
<text class="lb" x="46.5" y="3165">-lastShipPosition</text><text class="lb" x="124" y="3165">0..1</text>
<text class="lb" x="79" y="3165">-positions</text><text class="lb" x="136" y="3165">0..*</text>
<text class="lb" x="164" y="3165">-coordinate</text><text class="lb" x="224" y="3165">0..1</text>
<text class="lb" x="295" y="3194">-startPosition</text><text class="lb" x="295" y="3213">0..1</text>
<text class="lb" x="295" y="3247">-shots</text><text class="lb" x="295" y="3266">0..*</text>
<text class="lb" x="707.7" y="3165">-shipIdentifier</text><text class="lb" x="778" y="3165">0..1</text>
<text class="lb" x="1024" y="3165">-direction</text><text class="lb" x="1074" y="3165">0..1</text>
<text class="lb" x="979" y="3179">-moves</text><text class="lb" x="998" y="3198">0..*</text>
</g>
</svg>
